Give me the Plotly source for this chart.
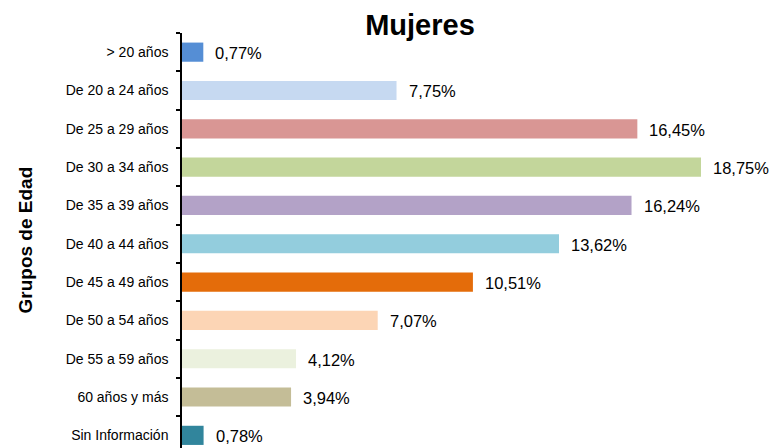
import plotly.graph_objects as go

grupos = [
    "> 20 años", "De 20 a 24 años", "De 25 a 29 años", "De 30 a 34 años",
    "De 35 a 39 años", "De 40 a 44 años", "De 45 a 49 años", "De 50 a 54 años",
    "De 55 a 59 años", "60 años y más", "Sin Información",
]
porcentajes = [0.77, 7.75, 16.45, 18.75, 16.24, 13.62, 10.51, 7.07, 4.12, 3.94, 0.78]
colores = [
    "#558ED5", "#C6D9F1", "#D99694", "#C3D69B", "#B3A2C7", "#93CDDD",
    "#E46C0A", "#FCD5B5", "#EBF1DE", "#C4BD97", "#31859C",
]

FONT = "Liberation Sans, Arial, sans-serif"
W, H = 771, 448
ML = 182
px_per_pct = 27.68

fig = go.Figure()
fig.add_trace(go.Bar(
    x=porcentajes,
    y=grupos,
    orientation="h",
    marker=dict(color=colores, line=dict(width=0)),
    width=0.5,
    hoverinfo="skip",
))

# etiquetas de valor a la derecha de cada barra
for g, v in zip(grupos, porcentajes):
    fig.add_annotation(
        x=v, y=g, xref="x", yref="y",
        text=f"{v:.2f}%".replace(".", ","),
        showarrow=False, xanchor="left", yanchor="middle",
        xshift=10, yshift=-1,
        font=dict(family=FONT, size=16.5, color="#000000"),
    )

fig.add_annotation(
    x=-(ML - 25) / (W - ML), y=0.5, xref="paper", yref="paper",
    text="<b>Grupos de Edad</b>", textangle=-90, showarrow=False,
    xanchor="center", yanchor="middle",
    font=dict(family=FONT, size=19, color="#000000"),
)

fig.update_layout(
    width=W, height=H,
    margin=dict(l=ML, r=0, t=33, b=0, autoexpand=False),
    paper_bgcolor="white", plot_bgcolor="white",
    showlegend=False,
    title=dict(
        text="<b>Mujeres</b>", x=420 / W, xanchor="center",
        y=1 - 25 / H, yanchor="middle",
        font=dict(family=FONT, size=29, color="#000000"),
    ),
    xaxis=dict(
        range=[0, (W - ML) / px_per_pct],
        visible=False, automargin=False,
    ),
    yaxis=dict(
        type="category", automargin=False,
        categoryorder="array", categoryarray=grupos,
        range=[10.33, -0.5],
        showline=True, linecolor="#000000", linewidth=1.5,
        ticks="outside", tickson="boundaries", ticklen=4, tickcolor="#000000",
        tickwidth=1.5,
        showgrid=False, zeroline=False,
        ticklabelstandoff=9,
        tickfont=dict(family=FONT, size=14, color="#000000"),
    ),
)

# sin margen del body para que el gráfico ocupe toda la ventana
fig.write_html(
    "out.html",
    config={"displayModeBar": False},
    post_script="document.body.style.margin='0';document.body.style.overflow='hidden';",
)
